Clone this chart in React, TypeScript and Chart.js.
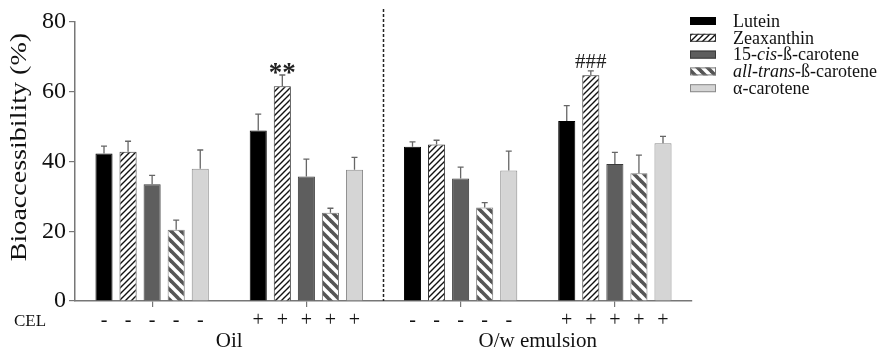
import React, { useEffect, useRef } from "react";
import { Chart, registerables } from "chart.js";

Chart.register(...registerables);

// ---------- data ----------
const categories = ["Oil -", "Oil +", "O/w emulsion -", "O/w emulsion +"];
const celSigns = ["-", "+", "-", "+"];
const groupLabels = ["Oil", "O/w emulsion"];
const seriesNames = ["Lutein", "Zeaxanthin", "15-cis-ß-carotene", "all-trans-ß-carotene", "α-carotene"];

const lutein = [42.3, 48.9, 44.2, 51.6];
const luteinErr = [2.1, 4.7, 1.4, 4.4];
const zeaxanthin = [42.8, 61.6, 44.9, 64.7];
const zeaxanthinErr = [3.0, 3.2, 1.2, 1.3];
const cisBeta = [33.5, 35.7, 35.1, 39.3];
const cisBetaErr = [2.5, 5.0, 3.3, 3.3];
const transBeta = [20.4, 25.3, 26.8, 36.6];
const transBetaErr = [2.8, 1.3, 1.4, 5.2];
const alphaCar = [37.9, 37.6, 37.4, 45.2];
const alphaCarErr = [5.4, 3.6, 5.6, 2.0];

const yMin = 0;
const yMax = 80;
const yStep = 20;
const yTitle = "Bioaccessibility (%)";
const celLabel = "CEL";
// significance marks: [series index, category index, text]
const marks: [number, number, string][] = [
  [1, 1, "**"],
  [1, 3, "###"],
];

const SERIF = "'Liberation Serif', 'Times New Roman', serif";

function makeHatch(size: number, lw: number, color: string, bg: string, dir: "/" | "\\") {
  const c = document.createElement("canvas");
  c.width = size;
  c.height = size;
  const g = c.getContext("2d")!;
  g.fillStyle = bg;
  g.fillRect(0, 0, size, size);
  g.strokeStyle = color;
  g.lineWidth = lw;
  g.lineCap = "square";
  const lines =
    dir === "/"
      ? [
          [-size, size, size, -size],
          [0, size, size, 0],
          [0, 2 * size, 2 * size, 0],
        ]
      : [
          [-size, 0, size, 2 * size],
          [0, 0, size, size],
          [0, -size, 2 * size, size],
        ];
  for (const [x1, y1, x2, y2] of lines) {
    g.beginPath();
    g.moveTo(x1, y1);
    g.lineTo(x2, y2);
    g.stroke();
  }
  return g.createPattern(c, "repeat")!;
}

export default function App() {
  const ref = useRef<HTMLCanvasElement>(null);

  useEffect(() => {
    const canvas = ref.current!;
    const ctx = canvas.getContext("2d")!;
    const zeaPat = makeHatch(6, 1.4, "#111", "#fff", "/");
    const transPat = makeHatch(10, 3.6, "#555", "#fff", "\\");

    const values = [lutein, zeaxanthin, cisBeta, transBeta, alphaCar];
    const errs = [luteinErr, zeaxanthinErr, cisBetaErr, transBetaErr, alphaCarErr];
    const fills: (string | CanvasPattern)[] = ["#000000", zeaPat, "#5e5e5e", transPat, "#d5d5d5"];
    const borders = ["#000000", "#333333", "#3a3a3a", "#777777", "#8a8a8a"];

    const overlay = {
      id: "overlay",
      afterDatasetsDraw(chart: any) {
        const c = chart.ctx as CanvasRenderingContext2D;
        const ys = chart.scales.y;
        const xs = chart.scales.x;
        const area = chart.chartArea;
        c.save();
        // error bars
        c.strokeStyle = "#666";
        c.lineWidth = 1.3;
        values.forEach((vals, i) => {
          const meta = chart.getDatasetMeta(i);
          meta.data.forEach((el: any, j: number) => {
            const yt = ys.getPixelForValue(vals[j] + errs[i][j]);
            const yb = ys.getPixelForValue(vals[j]);
            c.beginPath();
            c.moveTo(el.x, yb);
            c.lineTo(el.x, yt);
            c.moveTo(el.x - 3, yt);
            c.lineTo(el.x + 3, yt);
            c.stroke();
          });
        });
        // significance marks
        c.fillStyle = "#222";
        c.textAlign = "center";
        c.textBaseline = "middle";
        marks.forEach(([si, ci, txt]) => {
          const el = chart.getDatasetMeta(si).data[ci];
          const yt = ys.getPixelForValue(values[si][ci] + errs[si][ci]);
          if (txt.startsWith("*")) {
            c.font = `bold 27px ${SERIF}`;
            c.fillText(txt, el.x, yt - 1);
          } else {
            c.font = `21px ${SERIF}`;
            c.fillText(txt, el.x, yt - 8);
          }
        });
        // dashed separator
        const xSep = (xs.getPixelForValue(1) + xs.getPixelForValue(2)) / 2;
        c.strokeStyle = "#222";
        c.lineWidth = 1.5;
        c.setLineDash([3, 2]);
        c.beginPath();
        c.moveTo(xSep, 9);
        c.lineTo(xSep, area.bottom);
        c.stroke();
        c.setLineDash([]);
        // CEL row
        c.fillStyle = "#111";
        c.font = `17px ${SERIF}`;
        c.textAlign = "left";
        c.fillText(celLabel, 14, 322);
        c.textAlign = "center";
        c.font = `20px ${SERIF}`;
        values.forEach((_, i) => {
          const meta = chart.getDatasetMeta(i);
          meta.data.forEach((el: any, j: number) => {
            c.fillText(celSigns[j] === "-" ? "-" : "+", el.x, 321);
          });
        });
        // group labels
        c.font = `21px ${SERIF}`;
        groupLabels.forEach((g, k) => {
          const xm = (xs.getPixelForValue(2 * k) + xs.getPixelForValue(2 * k + 1)) / 2;
          c.fillText(g, xm, 341);
        });
        // y title
        c.save();
        c.translate(20, 147);
        c.rotate(-Math.PI / 2);
        c.scale(1.22, 1);
        c.font = `23px ${SERIF}`;
        c.textAlign = "center";
        c.fillText(yTitle, 0, 0);
        c.restore();
        // legend
        const segs: { t: string; i?: boolean }[][] = [
          [{ t: "Lutein" }],
          [{ t: "Zeaxanthin" }],
          [{ t: "15-" }, { t: "cis", i: true }, { t: "-ß-carotene" }],
          [{ t: "all-trans", i: true }, { t: "-ß-carotene" }],
          [{ t: "α-carotene" }],
        ];
        seriesNames.forEach((_, i) => {
          const cy = 21 + i * 16.8;
          c.fillStyle = fills[i] as any;
          c.fillRect(690, cy - 4, 26, 8);
          c.strokeStyle = borders[i];
          c.lineWidth = 1;
          c.strokeRect(690.5, cy - 3.5, 25, 7);
          let x = 733;
          c.fillStyle = "#111";
          c.textAlign = "left";
          c.textBaseline = "middle";
          segs[i].forEach((s) => {
            c.font = `${s.i ? "italic " : ""}18px ${SERIF}`;
            c.fillText(s.t, x, cy + 1);
            x += c.measureText(s.t).width;
          });
        });
        c.restore();
      },
    };

    const chart = new Chart(ctx, {
      type: "bar",
      data: {
        labels: categories,
        datasets: seriesNames.map((n, i) => ({
          label: n,
          data: values[i],
          backgroundColor: fills[i] as any,
          borderColor: borders[i],
          borderWidth: 1,
          categoryPercentage: 0.78,
          barPercentage: 0.71,
        })),
      },
      options: {
        responsive: false,
        animation: false,
        devicePixelRatio: 1,
        layout: { padding: { top: 22, right: 193, bottom: 0, left: 0 } },
        plugins: { legend: { display: false }, tooltip: { enabled: false }, title: { display: false } },
        scales: {
          x: {
            offset: true,
            grid: { display: true, drawOnChartArea: false, drawTicks: true, tickLength: 6, offset: false, color: "#777", lineWidth: 1.2 },
            border: { display: true, color: "#777", width: 1.5 },
            ticks: { display: false },
            afterFit: (s: any) => {
              s.height = 50;
            },
          },
          y: {
            min: yMin,
            max: yMax,
            ticks: { stepSize: yStep, color: "#111", font: { family: SERIF, size: 24 }, padding: 3 },
            grid: { display: true, drawOnChartArea: false, drawTicks: true, tickLength: 6, color: "#777", lineWidth: 1.2 },
            border: { display: true, color: "#777", width: 1.5 },
            afterFit: (s: any) => {
              s.width = 75;
            },
          },
        },
      },
      plugins: [overlay],
    });
    return () => chart.destroy();
  }, []);

  return (
    <div style={{ position: "fixed", left: 0, top: 0, width: 885, height: 351, background: "#fff" }}>
      <canvas ref={ref} width={885} height={351} style={{ width: 885, height: 351, display: "block" }} />
    </div>
  );
}
